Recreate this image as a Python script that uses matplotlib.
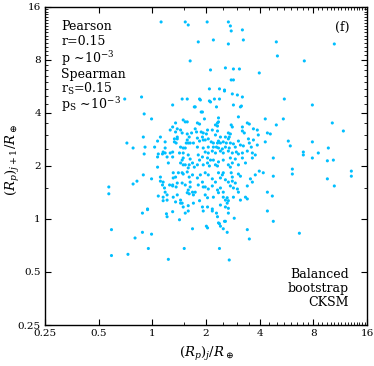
import matplotlib
matplotlib.use("Agg")
import matplotlib.pyplot as plt
from matplotlib.ticker import FixedLocator, FixedFormatter, MultipleLocator

plt.rcParams['font.family'] = ['DejaVu Serif']
plt.rcParams['mathtext.fontset'] = 'dejavuserif'

# radius of planet j (x) and of its outer neighbour j+1 (y), in Earth radii
rj = [1.12, 1.53, 1.59, 2.03, 2.67, 2.74, 2.77, 3.20, 3.24, 1.81, 2.20, 2.67, 4.96, 5.03, 10.49,
      1.63, 7.12, 2.12, 2.57, 2.85, 3.08, 3.98, 2.77, 2.85, 2.09, 2.38, 2.54, 2.81, 3.00, 3.20,
      1.57, 1.84, 2.09, 2.23, 2.38, 5.50, 1.74, 1.88, 2.29, 2.85, 3.12, 7.90, 3.04, 4.30, 5.43,
      4.96, 10.22, 11.79, 4.59, 5.79, 5.94, 7.90, 7.03, 7.03, 7.90, 8.53, 9.71, 9.59, 10.36, 13.07,
      13.07, 4.77, 6.10, 6.10, 4.77, 9.59, 4.30, 3.88, 3.93, 3.69, 0.70, 0.87, 0.90, 0.99, 1.30,
      2.54, 1.47, 1.72, 1.91, 2.12, 3.16, 10.49, 4.42, 4.71, 4.42, 4.77, 6.68, 3.41, 3.50, 2.38,
      2.70, 2.63, 1.68, 2.01, 2.04, 2.35, 2.41, 2.54, 2.88, 0.57, 0.57, 0.59, 0.59, 0.73, 0.80,
      0.88, 0.95, 0.99, 1.23, 1.51, 0.88, 0.94, 1.20, 1.21, 1.30, 1.53, 1.59, 1.42, 0.78, 0.82,
      1.08, 1.15, 1.21, 1.17, 1.30, 1.38, 1.36, 1.47, 1.93, 2.17, 2.29, 2.67, 2.32, 2.57, 2.38,
      2.50, 0.72, 0.78, 0.89, 0.91, 0.90, 1.03, 1.11, 1.08, 1.07, 1.15, 1.21, 1.26, 1.30, 1.35,
      1.38, 1.49, 1.53, 1.44, 1.47, 1.57, 1.53, 1.47, 1.49, 1.23, 1.31, 1.11, 0.89, 1.86, 1.35,
      1.57, 1.79, 1.84, 1.96, 1.26, 1.38, 1.57, 1.66, 1.61, 1.74, 1.77, 1.88, 1.93, 1.07, 1.18,
      1.33, 1.33, 1.38, 1.36, 1.55, 1.59, 1.63, 1.70, 1.79, 1.84, 1.91, 1.93, 1.18, 1.44, 1.49,
      1.79, 1.93, 2.35, 2.35, 2.32, 2.26, 2.32, 2.77, 2.81, 3.20, 3.41, 3.50, 2.04, 2.01, 2.17,
      2.32, 2.26, 2.41, 2.57, 2.67, 2.74, 2.70, 3.20, 3.28, 4.42, 1.98, 2.06, 2.14, 2.20, 2.32,
      2.35, 2.41, 2.50, 2.60, 2.67, 2.74, 2.85, 3.04, 3.46, 3.69, 2.06, 2.20, 2.29, 2.35, 2.47,
      2.57, 2.70, 2.92, 3.12, 3.24, 3.50, 3.59, 3.88, 0.99, 1.07, 1.14, 1.18, 1.30, 1.30, 1.42,
      1.49, 1.49, 1.59, 1.63, 1.68, 1.44, 1.53, 1.61, 1.59, 1.72, 1.79, 1.84, 1.81, 1.91, 1.93,
      1.11, 1.15, 1.14, 1.25, 1.30, 1.31, 1.35, 1.40, 1.47, 1.49, 1.57, 1.61, 1.68, 1.38, 1.47,
      1.53, 1.59, 1.63, 1.68, 1.57, 1.61, 1.70, 1.74, 1.63, 1.79, 1.86, 1.91, 1.81, 1.93, 1.18,
      1.31, 1.15, 1.21, 1.35, 1.44, 1.49, 1.59, 1.70, 1.84, 1.91, 0.94, 1.98, 2.06, 2.17, 2.26,
      2.41, 2.50, 2.67, 2.81, 2.96, 3.04, 3.20, 3.41, 3.64, 3.78, 2.04, 2.12, 2.20, 2.35, 2.50,
      2.74, 2.92, 3.20, 3.33, 3.64, 2.04, 2.09, 2.26, 2.32, 2.67, 2.74, 2.81, 3.04, 1.98, 2.06,
      2.35, 2.47, 2.50, 2.77, 2.81, 3.04, 3.12, 2.17, 2.26, 2.41, 2.57, 2.67, 2.81, 2.92, 3.55,
      3.78, 3.98, 4.19, 1.98, 2.06, 2.17, 2.32, 2.41, 2.50, 2.74, 2.85, 3.00, 3.41, 3.04, 1.98,
      2.04, 2.20, 2.35, 2.50, 2.57, 2.63, 2.85, 3.33, 3.41, 2.17, 2.04, 2.41, 2.57, 2.67, 2.63,
      2.67, 3.12, 3.64, 1.44]

rj1 = [13.15, 13.15, 12.64, 13.15, 13.15, 12.48, 11.69, 11.85, 10.39, 10.13, 10.39, 9.86, 10.13, 8.43, 9.86,
       7.90, 7.90, 7.02, 7.21, 7.11, 7.11, 6.75, 6.16, 6.16, 5.48, 5.48, 5.40, 5.13, 5.06, 4.93,
       4.80, 4.80, 4.68, 4.80, 4.80, 4.80, 4.33, 4.05, 4.33, 4.44, 4.33, 4.44, 3.80, 3.70, 3.70,
       3.42, 3.51, 3.16, 3.04, 2.77, 2.60, 2.74, 2.40, 2.31, 2.22, 2.37, 2.53, 2.14, 2.16, 1.87,
       1.75, 2.22, 1.92, 1.80, 1.75, 1.69, 2.74, 3.20, 3.00, 3.25, 4.80, 4.93, 3.95, 3.70, 4.44,
       5.33, 4.80, 4.33, 4.05, 4.62, 4.38, 1.54, 1.42, 1.35, 1.11, 0.97, 0.83, 0.87, 0.77, 0.68,
       0.585, 0.84, 0.88, 0.91, 0.89, 0.95, 0.91, 0.97, 1.01, 1.52, 1.39, 0.87, 0.62, 0.63, 0.78,
       0.84, 0.68, 0.82, 0.59, 0.68, 1.08, 1.13, 1.07, 1.03, 1.10, 1.08, 1.11, 0.99, 1.58, 1.64,
       1.35, 1.27, 1.37, 1.50, 1.56, 1.37, 1.52, 1.23, 1.11, 1.11, 1.08, 1.08, 1.03, 0.97, 0.94,
       0.88, 2.70, 2.53, 2.92, 2.56, 2.34, 2.56, 2.92, 2.34, 2.25, 2.40, 2.25, 2.37, 3.33, 3.12,
       2.92, 3.65, 3.56, 3.20, 3.08, 2.81, 2.53, 2.16, 2.03, 2.08, 1.83, 1.73, 1.78, 4.74, 3.51,
       3.56, 3.51, 3.46, 3.70, 3.20, 3.25, 3.04, 3.08, 2.92, 3.25, 3.12, 3.12, 3.08, 2.77, 2.74,
       2.85, 2.74, 2.85, 2.70, 2.70, 2.70, 2.70, 2.70, 2.88, 2.77, 2.92, 2.81, 2.53, 2.56, 2.53,
       2.56, 2.53, 3.75, 3.56, 3.51, 3.42, 3.37, 3.42, 3.33, 3.33, 3.51, 3.46, 3.20, 3.04, 3.20,
       3.16, 3.00, 2.92, 2.92, 3.08, 3.04, 2.92, 3.16, 3.08, 3.08, 2.81, 2.85, 2.74, 2.70, 2.70,
       2.77, 2.70, 2.74, 2.70, 2.85, 2.70, 2.67, 2.77, 2.85, 2.81, 2.56, 2.56, 2.56, 2.53, 2.50,
       2.56, 2.53, 2.56, 2.63, 2.60, 2.70, 2.56, 2.63, 1.69, 1.97, 2.34, 2.37, 2.25, 2.40, 2.37,
       2.37, 2.22, 2.31, 2.19, 2.08, 2.08, 2.03, 2.03, 1.95, 1.97, 2.03, 2.16, 2.31, 2.25, 2.03,
       1.64, 1.62, 1.56, 1.56, 1.54, 1.71, 1.73, 1.83, 1.83, 1.80, 1.85, 1.73, 1.78, 1.60, 1.60,
       1.56, 1.46, 1.52, 1.42, 1.41, 1.39, 1.37, 1.42, 1.62, 1.71, 1.78, 1.62, 1.56, 1.52, 1.42,
       1.33, 1.33, 1.28, 1.25, 1.23, 1.17, 1.19, 1.23, 1.27, 1.17, 1.14, 2.40, 2.37, 2.43, 2.37,
       2.43, 2.37, 2.43, 2.37, 2.40, 2.34, 2.37, 2.43, 2.37, 2.31, 2.22, 2.16, 2.16, 2.11, 2.16,
       2.22, 2.19, 2.22, 2.08, 2.22, 2.08, 2.00, 2.03, 2.00, 2.03, 1.97, 2.08, 2.03, 1.83, 1.78,
       1.83, 1.78, 1.83, 1.83, 1.73, 1.80, 1.75, 1.69, 1.62, 1.71, 1.67, 1.62, 1.64, 1.60, 1.69,
       1.78, 1.87, 1.83, 1.52, 1.48, 1.54, 1.46, 1.50, 1.42, 1.54, 1.50, 1.48, 1.54, 1.42, 1.37,
       1.32, 1.33, 1.41, 1.33, 1.28, 1.23, 1.33, 1.33, 1.30, 1.14, 1.17, 1.20, 1.17, 1.15, 1.32,
       1.27, 1.28, 1.62, 1.28]

tick_vals = [0.25, 0.5, 1, 2, 4, 8, 16]
tick_labels = ['0.25', '0.5', '1', '2', '4', '8', '16']

fig = plt.figure(figsize=(3.74, 3.66), dpi=100)
ax = fig.add_axes([0.1203, 0.112, 0.861, 0.869])

ax.scatter(rj, rj1, s=5, color='#00BFFF', edgecolors='none', zorder=3)

ax.set_xscale('log', base=2)
ax.set_yscale('log', base=2)
ax.set_xlim(0.25, 16)
ax.set_ylim(0.25, 16)

for axis in (ax.xaxis, ax.yaxis):
    axis.set_major_locator(FixedLocator(tick_vals))
    axis.set_major_formatter(FixedFormatter(tick_labels))
    axis.set_minor_locator(MultipleLocator(0.5))
    axis.set_minor_formatter(FixedFormatter([]))

ax.tick_params(which='both', direction='in', top=True, right=True, labelsize=7.5, pad=3)
ax.tick_params(which='major', length=4, width=0.8)
ax.tick_params(which='minor', length=2, width=0.6)
for sp in ax.spines.values():
    sp.set_linewidth(1.0)

ax.set_xlabel(r'$(R_p)_j/R_\oplus$', fontsize=9.5)
ax.xaxis.set_label_coords(0.5, -0.062)
ax.set_ylabel(r'$(R_p)_{j+1}/R_\oplus$', fontsize=9.5)
ax.yaxis.set_label_coords(-0.072, 0.52)

stats = ['Pearson', 'r=0.15', r'p$\,\sim\!10^{-3}$', 'Spearman',
         r'r$_\mathrm{S}$=0.15', r'p$_\mathrm{S}\,\sim\!10^{-3}$']
ys = [0.937, 0.890, 0.838, 0.789, 0.742, 0.692]
for s, yy in zip(stats, ys):
    ax.text(0.05, yy, s, transform=ax.transAxes, fontsize=9, va='center', ha='left')

ax.text(0.947, 0.934, '(f)', transform=ax.transAxes, fontsize=9, va='center', ha='right')
ax.text(0.944, 0.115, 'Balanced\nbootstrap\nCKSM', transform=ax.transAxes, fontsize=9,
        va='center', ha='right', multialignment='right', linespacing=1.1)

fig.savefig('out.png', dpi=100)
